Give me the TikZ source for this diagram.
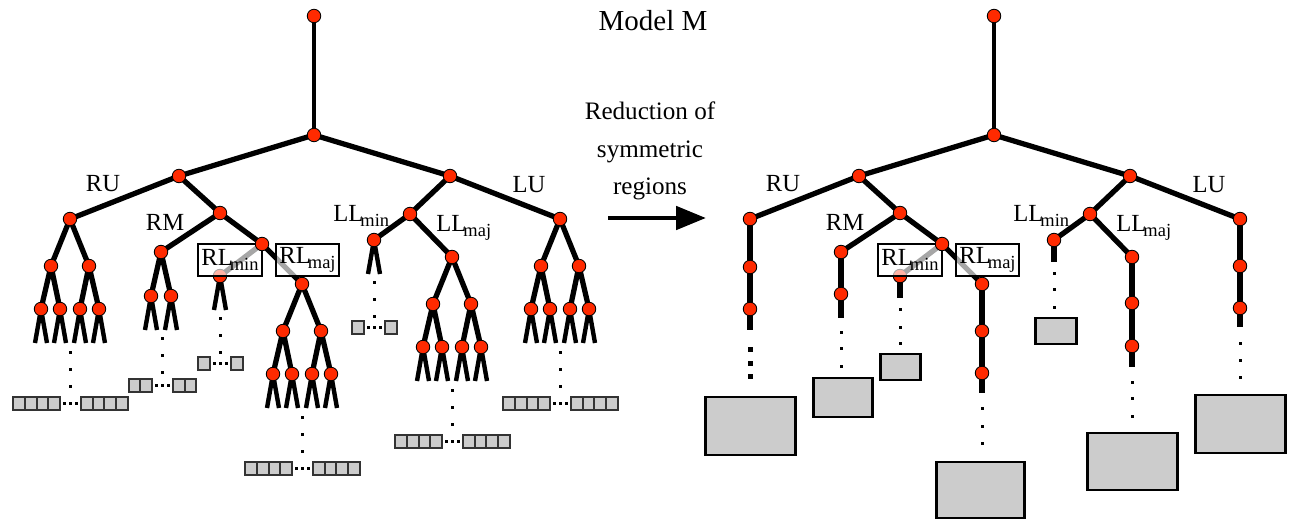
\documentclass[tikz,border=0pt]{standalone}
\usepackage{fontspec}
\setmainfont{Liberation Serif}
\usetikzlibrary{arrows.meta,calc}
\definecolor{nodered}{HTML}{FF2A00}
\definecolor{leafgray}{HTML}{CCCCCC}
\pgfdeclarelayer{background}
\pgfsetlayers{background,main}

\tikzset{
  vtx/.style={circle, draw=black, line width=0.5pt, fill=nodered, minimum size=0.27cm, inner sep=0pt},
  edge/.style={line width=3pt, line join=round},
  leg/.style={line width=2.5pt},
  chain/.style={line width=3.6pt},
  lbl/.style={font=\fontsize{14}{16}\selectfont, inner sep=0pt},
  regbox/.style={lbl, draw=black, line width=0.8pt, fill=white, fill opacity=0.65, text opacity=1, minimum height=0.64cm},
  cellbox/.style={fill=leafgray, draw=black!80, line width=1.1pt},
  bigbox/.style={fill=leafgray, draw=black, line width=1.7pt},
}

% lowered index as in RL_min
\newcommand\lowtxt[1]{\kern-0.12em\raisebox{-0.45ex}{\fontsize{10.5}{11}\selectfont #1}}

% two legs under a leaf node
\newcommand\legs[1]{\draw[leg] ($(#1)+(-6,34)$) -- (#1.center) (#1.center) -- ($(#1)+(6,34)$);}

% three dots down, then two rows of leaf cells
\newcommand\tail[4]{% x, y at leg ends, cells per row, gap to rows
  \foreach \dd in {8,25,42} {\fill ({#1-1.5},{#2+\dd-1.5}) rectangle ++(3,3);}
  \foreach \k in {1,...,#3} {
    \draw[cellbox] ({#1-10-\k*11.7},{#2+#4}) rectangle ++(11.7,13);
    \draw[cellbox] ({#1+11+(\k-1)*11.7},{#2+#4}) rectangle ++(11.7,13);
  }
  \foreach \dd in {-6,0,6} {\fill ({#1+\dd-1.5},{#2+#4+5}) rectangle ++(3,3);}
}

% three dots down (reduced model)
\newcommand\dotcol[5]{%
  \foreach \yy in {#2,#3,#4} {\fill ({#1-#5/2},{\yy-#5/2}) rectangle ++(#5,#5);}
}

% two full levels below node #1 sitting at (#2,#3)
\newcommand\fullsub[3]{%
  \node[vtx] (#1a) at ({#2-19},{#3+47}) {};
  \node[vtx] (#1b) at ({#2+19},{#3+47}) {};
  \node[vtx] (#1aa) at ({#2-29},{#3+90}) {};
  \node[vtx] (#1ab) at ({#2-10},{#3+90}) {};
  \node[vtx] (#1ba) at ({#2+10},{#3+90}) {};
  \node[vtx] (#1bb) at ({#2+29},{#3+90}) {};
  \begin{pgfonlayer}{background}
    \draw[edge] (#1.center) -- (#1a.center) (#1.center) -- (#1b.center);
    \draw[edge] (#1a.center) -- (#1aa.center) (#1a.center) -- (#1ab.center);
    \draw[edge] (#1b.center) -- (#1ba.center) (#1b.center) -- (#1bb.center);
    \foreach \q in {aa,ab,ba,bb} {\legs{#1\q}}
  \end{pgfonlayer}
  \tail{#2}{#3+125}{4}{53}
}

% upper part shared by both models, shifted by #2
\newcommand\uppertree[2]{%
  \node[vtx] (#1top) at ({#2+314},16) {};
  \node[vtx] (#1root) at ({#2+314},135) {};
  \node[vtx] (#1r) at ({#2+179},176) {};
  \node[vtx] (#1ru) at ({#2+70},219) {};
  \node[vtx] (#1rr) at ({#2+220},213) {};
  \node[vtx] (#1rm) at ({#2+161},252) {};
  \node[vtx] (#1rlmin) at ({#2+220},276) {};
  \node[vtx] (#1rlmaj) at ({#2+302},284) {};
  \node[vtx] (#1l) at ({#2+450},176) {};
  \node[vtx] (#1lu) at ({#2+560},219) {};
  \node[vtx] (#1ll) at ({#2+410},214) {};
  \node[vtx] (#1llmin) at ({#2+374},240) {};
  \node[vtx] (#1llmaj) at ({#2+452},257) {};
  % region boxes (over RL_min node and its links)
  \node[regbox, minimum width=1.28cm] (#1boxmin) at ({#2+230},260) {RL\lowtxt{min}};
  \node[regbox, minimum width=1.26cm] (#1boxmaj) at ({#2+307.5},260) {RL\lowtxt{maj}};
  \node[vtx] (#1rl) at ({#2+262},244) {};
  \begin{pgfonlayer}{background}
    \draw[edge, line width=2.7pt] (#1top.center) -- (#1root.center);
    \draw[edge] (#1ru.center) -- (#1r.center) -- (#1root.center) -- (#1l.center) -- (#1lu.center);
    \draw[edge] (#1r.center) -- (#1rr.center) -- (#1rl.center) (#1rr.center) -- (#1rm.center);
    \draw[edge] (#1l.center) -- (#1ll.center) (#1llmin.center) -- (#1ll.center) -- (#1llmaj.center);
    \draw[edge] (#1rl.center) -- (#1rlmin.center) (#1rl.center) -- (#1rlmaj.center);
  \end{pgfonlayer}
  % labels
  \node[lbl] (#1rutxt) at ({#2+103},184) {RU};
  \node[lbl] (#1rmtxt) at ({#2+165},222) {RM};
  \node[lbl] (#1lutxt) at ({#2+529},185) {LU};
  \node[lbl, anchor=base west] (#1llmintxt) at ({#2+333},221) {LL\lowtxt{min}};
  \node[lbl, anchor=base west] (#1llmajtxt) at ({#2+436},231) {LL\lowtxt{maj}};
}

\begin{document}
\begin{tikzpicture}[x=0.02cm, y=-0.02cm]
  \useasboundingbox (0,0) rectangle (1290,520);

  % ================= LEFT: FULL MODEL =================
  \uppertree{L}{0}

  % RU, RL_maj, LL_maj, LU: two levels each
  \fullsub{Lru}{70}{219}
  \fullsub{Lrlmaj}{302}{284}
  \fullsub{Lllmaj}{452}{257}
  \fullsub{Llu}{560}{219}

  % RM: one level
  \node[vtx] (Lrma) at (151,296) {};
  \node[vtx] (Lrmb) at (171,296) {};
  \begin{pgfonlayer}{background}
    \draw[edge] (Lrm.center) -- (Lrma.center) (Lrm.center) -- (Lrmb.center);
    \legs{Lrma} \legs{Lrmb}
    % RL_min and LL_min: leaves only
    \legs{Lrlmin} \legs{Lllmin}
  \end{pgfonlayer}
  \tail{162}{330}{2}{49}
  \tail{220}{310}{1}{47}
  \tail{374}{274}{1}{47}

  % ================= MIDDLE: TITLE AND ARROW =================
  \node[font=\fontsize{16.5}{18}\selectfont] (title) at (653,21) {Model M};
  \node[align=center, font=\fontsize{14.3}{21.5}\selectfont] (reduce) at (650,151)
    {Reduction of\\symmetric\\regions};
  \coordinate (arrfrom) at (608,218);
  \coordinate (arrto) at (706,218);
  \draw[line width=2.8pt, -{Triangle[length=0.6cm, width=0.46cm]}] (arrfrom) -- (arrto);

  % ================= RIGHT: REDUCED MODEL =================
  \uppertree{R}{680}

  % RU chain
  \node[vtx] (Rru2) at (750,267) {};
  \node[vtx] (Rru3) at (750,309) {};
  \coordinate (Rruend) at (750,330);
  % RM chain
  \node[vtx] (Rrm2) at (841,294) {};
  \coordinate (Rrmend) at (841,318);
  % RL_min stub
  \coordinate (Rrlminend) at (900,298);
  % RL_maj chain
  \node[vtx] (Rrlmaj2) at (982,331) {};
  \node[vtx] (Rrlmaj3) at (982,373) {};
  \coordinate (Rrlmajend) at (982,393);
  % LL_min stub
  \coordinate (Rllminend) at (1054,262);
  % LL_maj chain
  \node[vtx] (Rllmaj2) at (1132,303) {};
  \node[vtx] (Rllmaj3) at (1132,346) {};
  \coordinate (Rllmajend) at (1132,367);
  % LU chain
  \node[vtx] (Rlu2) at (1240,266) {};
  \node[vtx] (Rlu3) at (1240,308) {};
  \coordinate (Rluend) at (1240,327);

  \begin{pgfonlayer}{background}
    \draw[chain] (Rru.center) -- (Rru2.center) -- (Rru3.center) -- (Rruend);
    \draw[chain] (Rrm.center) -- (Rrm2.center) -- (Rrmend);
    \draw[chain] (Rrlmin.center) -- (Rrlminend);
    \draw[chain] (Rrlmaj.center) -- (Rrlmaj2.center) -- (Rrlmaj3.center) -- (Rrlmajend);
    \draw[chain] (Rllmin.center) -- (Rllminend);
    \draw[chain] (Rllmaj.center) -- (Rllmaj2.center) -- (Rllmaj3.center) -- (Rllmajend);
    \draw[chain] (Rlu.center) -- (Rlu2.center) -- (Rlu3.center) -- (Rluend);
  \end{pgfonlayer}

  % dots and merged leaf blocks
  \dotcol{750}{349}{363}{376}{5}
  \dotcol{841}{332}{348}{366}{3}
  \dotcol{900}{309}{327}{343}{3}
  \dotcol{982}{408}{426}{443}{3}
  \dotcol{1054}{273}{289}{307}{3}
  \dotcol{1132}{382}{398}{416}{3}
  \dotcol{1240}{343}{360}{377}{3}

  \draw[bigbox] (705,397) rectangle (795,455);
  \draw[bigbox] (813,378) rectangle (872,417);
  \draw[bigbox] (880,354) rectangle (920,380);
  \draw[bigbox] (936,462) rectangle (1024,518);
  \draw[bigbox] (1035,318) rectangle (1076,344);
  \draw[bigbox] (1087,433) rectangle (1177,490);
  \draw[bigbox] (1195,395) rectangle (1285,453);
\end{tikzpicture}
\end{document}
